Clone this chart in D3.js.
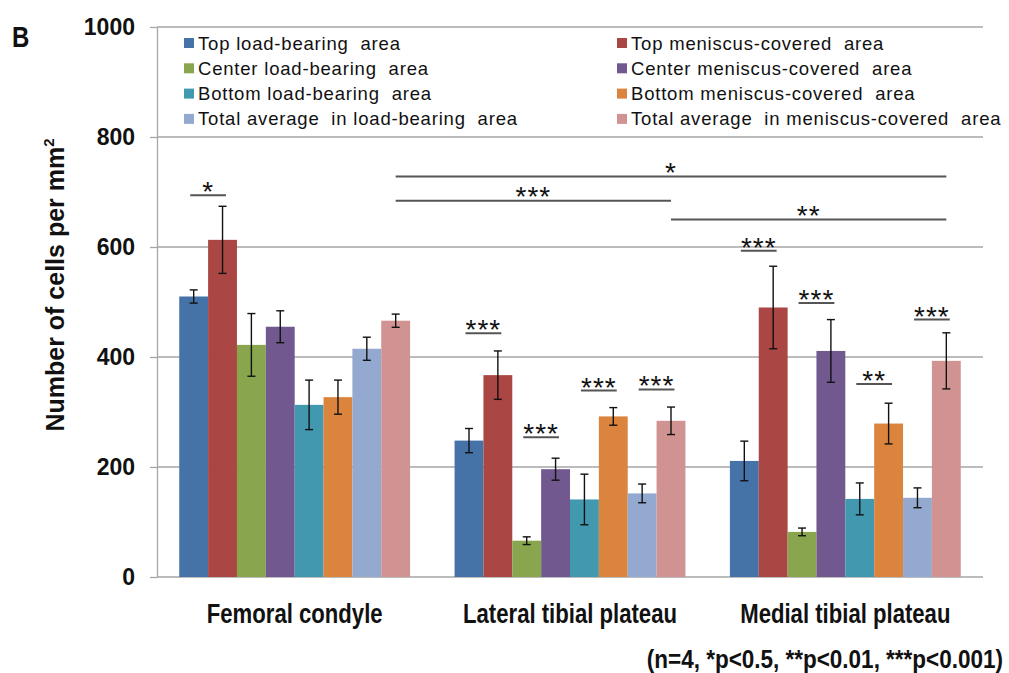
<!DOCTYPE html>
<html>
<head>
<meta charset="utf-8">
<script src="https://cdn.jsdelivr.net/npm/d3@7"></script>
<style>
  html, body { margin: 0; padding: 0; background: #fff; }
  svg { display: block; font-family: "Liberation Sans", Arial, sans-serif; }
  .legend text { white-space: pre; }
</style>
</head>
<body>
<svg id="chart" width="1009" height="673"></svg>
<script>
// Regions of the joint
const categories = ["Femoral condyle", "Lateral tibial plateau", "Medial tibial plateau"];

// Series, in bar order within each region
const seriesNames = [
  "Top load-bearing  area",
  "Top meniscus-covered  area",
  "Center load-bearing  area",
  "Center meniscus-covered  area",
  "Bottom load-bearing  area",
  "Bottom meniscus-covered  area",
  "Total average  in load-bearing  area",
  "Total average  in meniscus-covered  area"
];
const seriesColors = ["#4572A7", "#AA4643", "#89A54E", "#71588F", "#4198AF", "#DB843D", "#93A9CF", "#D19392"];

// Mean cell density (cells per mm²) per region: femoral, lateral, medial
const topLoadMean      = [510, 248, 211];
const topMeniscusMean  = [613, 367, 490];
const centerLoadMean   = [422, 66, 82];
const centerMeniscusMean = [455, 196, 411];
const bottomLoadMean   = [313, 141, 142];
const bottomMeniscusMean = [327, 292, 279];
const totalLoadMean    = [415, 152, 144];
const totalMeniscusMean = [466, 284, 393];

// Standard deviations
const topLoadErr       = [12, 22, 36];
const topMeniscusErr   = [61, 44, 75];
const centerLoadErr    = [57, 7, 7];
const centerMeniscusErr = [29, 20, 57];
const bottomLoadErr    = [45, 46, 29];
const bottomMeniscusErr = [31, 16, 37];
const totalLoadErr     = [21, 17, 18];
const totalMeniscusErr = [12, 25, 51];

const meanSeries = [topLoadMean, topMeniscusMean, centerLoadMean, centerMeniscusMean,
                    bottomLoadMean, bottomMeniscusMean, totalLoadMean, totalMeniscusMean];
const errSeries  = [topLoadErr, topMeniscusErr, centerLoadErr, centerMeniscusErr,
                    bottomLoadErr, bottomMeniscusErr, totalLoadErr, totalMeniscusErr];

const yTicks = [0, 200, 400, 600, 800, 1000];

// Pairwise comparisons inside a region: [region, seriesA, seriesB, line level, label]
const pairRegion = [0, 1, 1, 1, 1, 2, 2, 2, 2];
const pairA      = [0, 0, 2, 4, 6, 0, 2, 4, 6];
const pairB      = [1, 1, 3, 5, 7, 1, 3, 5, 7];
const pairLevel  = [694, 443, 254, 339, 341, 593, 498, 351, 468];
const pairLabel  = ["*", "***", "***", "***", "***", "***", "***", "**", "***"];

// Comparisons of the meniscus-covered total average across regions
const spanFrom  = [0, 0, 1];
const spanTo    = [2, 1, 2];
const spanLevel = [728, 684, 650];
const spanLabel = ["*", "***", "**"];

const footnote = "(n=4, *p<0.5, **p<0.01, ***p<0.001)";

const svg = d3.select("#chart");
const margin = { left: 157, right: 26, top: 27, bottom: 96 };
const W = 1009, H = 673;

const x0 = d3.scaleBand().domain(d3.range(categories.length))
  .range([margin.left, W - margin.right])
  .paddingInner(0.1615).paddingOuter(0.0808);
const x1 = d3.scaleBand().domain(d3.range(seriesNames.length))
  .range([0, x0.bandwidth()]);
const y = d3.scaleLinear().domain([0, 1000]).range([H - margin.bottom, margin.top]);

const gridColor = "#a6a6a6";

// Horizontal gridlines
svg.append("g").selectAll("line").data(yTicks).join("line")
  .attr("x1", margin.left).attr("x2", W - margin.right)
  .attr("y1", d => y(d)).attr("y2", d => y(d))
  .attr("stroke", gridColor).attr("stroke-width", 1.3);

// Y axis
const yAxis = svg.append("g")
  .attr("transform", `translate(${margin.left},0)`)
  .call(d3.axisLeft(y).tickValues(yTicks).tickFormat(d3.format("d"))
    .tickSize(7).tickSizeOuter(0).tickPadding(15));
yAxis.select(".domain").attr("stroke", gridColor).attr("stroke-width", 1.3);
yAxis.selectAll(".tick line").attr("stroke", gridColor).attr("stroke-width", 1.3);
yAxis.selectAll(".tick text")
  .attr("font-size", 23).attr("font-weight", "bold").attr("fill", "#111")
  .attr("font-family", "'Liberation Sans', Arial, sans-serif");

// Bars
const groups = svg.append("g").selectAll("g").data(categories).join("g")
  .attr("transform", (d, i) => `translate(${x0(i)},0)`);

groups.each(function(cat, gi) {
  const g = d3.select(this);
  const rows = seriesNames.map((s, si) => ({ si, v: meanSeries[si][gi], e: errSeries[si][gi] }));
  g.selectAll("rect").data(rows).join("rect")
    .attr("x", d => x1(d.si))
    .attr("y", d => y(d.v))
    .attr("width", x1.bandwidth())
    .attr("height", d => y(0) - y(d.v))
    .attr("fill", d => seriesColors[d.si]);

  // Error bars
  const cap = 4;
  const eb = g.selectAll("g.err").data(rows).join("g").attr("class", "err")
    .attr("stroke", "#111").attr("stroke-width", 1.4);
  eb.append("line")
    .attr("x1", d => x1(d.si) + x1.bandwidth() / 2).attr("x2", d => x1(d.si) + x1.bandwidth() / 2)
    .attr("y1", d => y(d.v + d.e)).attr("y2", d => y(d.v - d.e));
  eb.append("line")
    .attr("x1", d => x1(d.si) + x1.bandwidth() / 2 - cap).attr("x2", d => x1(d.si) + x1.bandwidth() / 2 + cap)
    .attr("y1", d => y(d.v + d.e)).attr("y2", d => y(d.v + d.e));
  eb.append("line")
    .attr("x1", d => x1(d.si) + x1.bandwidth() / 2 - cap).attr("x2", d => x1(d.si) + x1.bandwidth() / 2 + cap)
    .attr("y1", d => y(d.v - d.e)).attr("y2", d => y(d.v - d.e));
});

// Significance markers
const sigColor = "#555";
const starSize = 28;
const centerOf = (gi, si) => x0(gi) + x1(si) + x1.bandwidth() / 2;

const sig = svg.append("g");
pairRegion.forEach((gi, k) => {
  const mid = (centerOf(gi, pairA[k]) + centerOf(gi, pairB[k])) / 2;
  const half = x1.bandwidth() * 0.62;
  const ly = y(pairLevel[k]);
  sig.append("line").attr("x1", mid - half).attr("x2", mid + half)
    .attr("y1", ly).attr("y2", ly).attr("stroke", sigColor).attr("stroke-width", 2);
  sig.append("text").attr("x", mid).attr("y", ly + 6)
    .attr("text-anchor", "middle").attr("font-size", starSize).attr("letter-spacing", 1)
    .attr("fill", "#111").text(pairLabel[k]);
});
spanFrom.forEach((ga, k) => {
  const xa = centerOf(ga, 7), xb = centerOf(spanTo[k], 7);
  const ly = y(spanLevel[k]);
  sig.append("line").attr("x1", xa).attr("x2", xb)
    .attr("y1", ly).attr("y2", ly).attr("stroke", sigColor).attr("stroke-width", 2);
  sig.append("text").attr("x", (xa + xb) / 2).attr("y", ly + 5)
    .attr("text-anchor", "middle").attr("font-size", starSize).attr("letter-spacing", 1)
    .attr("fill", "#111").text(spanLabel[k]);
});

// Category labels (bold, condensed)
svg.append("g").selectAll("g").data(categories).join("g")
  .attr("transform", (d, i) => `translate(${x0(i) + x0.bandwidth() / 2},${y(0) + 46})`)
  .append("text")
  .attr("transform", "scale(0.82,1)")
  .attr("text-anchor", "middle").attr("font-size", 27).attr("font-weight", "bold").attr("fill", "#111")
  .text(d => d);

// Footnote
svg.append("g").attr("transform", `translate(1003,668)`)
  .append("text").attr("transform", "scale(0.9,1)")
  .attr("text-anchor", "end").attr("font-size", 25).attr("font-weight", "bold").attr("fill", "#111")
  .text(footnote);

// Y axis title
const yTitle = svg.append("text")
  .attr("transform", "translate(64,285) rotate(-90)")
  .attr("text-anchor", "middle").attr("font-size", 25).attr("font-weight", "bold").attr("fill", "#111");
yTitle.append("tspan").text("Number of cells per mm");
yTitle.append("tspan").attr("font-size", 15).attr("dy", -10).text("2");

// Panel letter
svg.append("g").attr("transform", "translate(12,47)")
  .append("text").attr("transform", "scale(0.8,1)")
  .attr("font-size", 30).attr("font-weight", "bold").attr("fill", "#111").text("B");

// Legend: load-bearing series on the left column, meniscus-covered on the right
const legend = svg.append("g").attr("class", "legend");
const legendCols = [184, 617];
const legendTop = 43, legendStep = 25.3;
seriesNames.forEach((name, si) => {
  const col = si % 2, row = Math.floor(si / 2);
  const lx = legendCols[col], ly = legendTop + row * legendStep;
  legend.append("rect").attr("x", lx).attr("y", ly - 5).attr("width", 10).attr("height", 10)
    .attr("fill", seriesColors[si]);
  legend.append("text").attr("x", lx + 14).attr("y", ly + 6.5)
    .attr("font-size", 18.5).attr("letter-spacing", 0.8).attr("fill", "#111").text(name);
});
</script>
</body>
</html>
